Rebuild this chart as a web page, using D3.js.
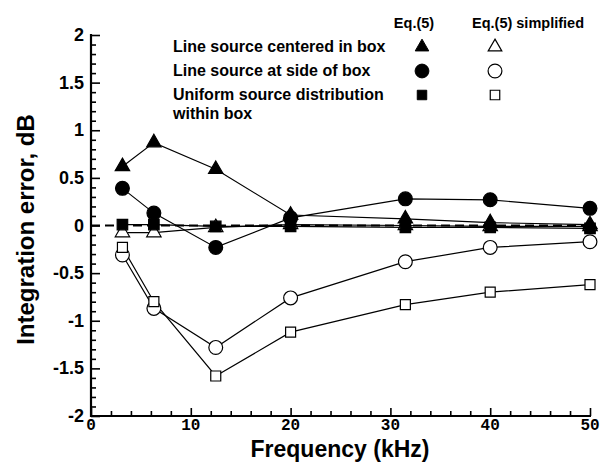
<!DOCTYPE html>
<html><head><meta charset="utf-8">
<script src="https://cdn.jsdelivr.net/npm/d3@7"></script>
<style>body{margin:0;background:#fff}svg{display:block}</style>
</head><body>
<script>
const freqs = [3.15, 6.3, 12.5, 20, 31.5, 40, 50];
const centeredEq5 = [0.62, 0.87, 0.59, 0.11, 0.07, 0.03, 0.01];
const centeredSimp = [-0.075, -0.075, -0.02, 0.01, 0.0, -0.01, -0.01];
const sideEq5 = [0.39, 0.13, -0.23, 0.08, 0.28, 0.27, 0.18];
const sideSimp = [-0.31, -0.87, -1.28, -0.76, -0.38, -0.23, -0.17];
const uniformEq5 = [0.01, 0.01, -0.01, -0.01, -0.02, -0.02, -0.03];
const uniformSimp = [-0.23, -0.80, -1.58, -1.12, -0.83, -0.70, -0.62];
const xTicks = [0, 10, 20, 30, 40, 50];
const yTicks = [-2, -1.5, -1, -0.5, 0, 0.5, 1, 1.5, 2];
const legendRows = ["Line source centered in box", "Line source at side of box", "Uniform source distribution"];
const legendCols = ["Eq.(5)", "Eq.(5) simplified"];

const W = 602, H = 462;
const svg = d3.select("body").append("svg").attr("width", W).attr("height", H);
const x = d3.scaleLinear().domain([0, 50]).range([91, 590]);
const y = d3.scaleLinear().domain([-2, 2]).range([416, 35]);
const lf = "Liberation Sans, Arial, sans-serif";

// axes
const xMinor = d3.range(0, 50.001, 2);
const yMinor = d3.range(-2, 2.001, 0.1);
const gx = svg.append("g").attr("transform", `translate(0,${y(-2)})`)
  .call(d3.axisBottom(x).tickValues(xMinor).tickSize(0).tickFormat(""));
gx.select(".domain").remove();
gx.selectAll(".tick line").attr("y2", d => Math.abs(d / 10 - Math.round(d / 10)) < 1e-6 ? -8 : -5)
  .attr("stroke", "#000").attr("stroke-width", 1.6);
const gy = svg.append("g").attr("transform", `translate(${x(0)},0)`)
  .call(d3.axisLeft(y).tickValues(yMinor).tickSize(0).tickFormat(""));
gy.select(".domain").remove();
gy.selectAll(".tick line").attr("x2", d => Math.abs(d * 2 - Math.round(d * 2)) < 1e-6 ? 9 : 5)
  .attr("stroke", "#000").attr("stroke-width", 1.6);
svg.append("line").attr("x1", x(0)).attr("x2", x(0)).attr("y1", y(2) - 1).attr("y2", y(-2) + 1).attr("stroke", "#000").attr("stroke-width", 2.2);
svg.append("line").attr("x1", x(0) - 1).attr("x2", x(50) + 1).attr("y1", y(-2)).attr("y2", y(-2)).attr("stroke", "#000").attr("stroke-width", 2.2);

// tick labels
svg.append("g").selectAll("text").data(xTicks).join("text")
  .attr("x", d => x(d)).attr("y", 430).attr("text-anchor", "middle")
  .attr("font-family", "Liberation Mono, Courier New, monospace").attr("font-weight", "bold").attr("font-size", 16)
  .text(d => d);
svg.append("g").selectAll("text").data(yTicks).join("text")
  .attr("x", 84).attr("y", d => y(d) + 6).attr("text-anchor", "end")
  .attr("font-family", lf).attr("font-weight", "bold").attr("font-size", 18)
  .text(d => d);

// axis titles
svg.append("text").attr("x", 340).attr("y", 456.5).attr("text-anchor", "middle")
  .attr("font-family", lf).attr("font-weight", "bold").attr("font-size", 23)
  .text("Frequency (kHz)");
svg.append("text").attr("transform", `translate(34,${(y(2) + y(-2)) / 2 + 4}) rotate(-90)`).attr("text-anchor", "middle")
  .attr("font-family", lf).attr("font-weight", "bold").attr("font-size", 24)
  .text("Integration error, dB");

// zero dashed line
svg.append("line").attr("x1", x(0)).attr("x2", x(50)).attr("y1", y(0)).attr("y2", y(0))
  .attr("stroke", "#000").attr("stroke-width", 2).attr("stroke-dasharray", "9,5");

const series = [
  {v: centeredSimp, sym: d3.symbolTriangle, size: 90, fill: "#fff"},
  {v: uniformEq5, sym: d3.symbolSquare, size: 110, fill: "#000"},
  {v: centeredEq5, sym: d3.symbolTriangle, size: 90, fill: "#000"},
  {v: sideEq5, sym: d3.symbolCircle, size: 150, fill: "#000"},
  {v: sideSimp, sym: d3.symbolCircle, size: 150, fill: "#fff"},
  {v: uniformSimp, sym: d3.symbolSquare, size: 100, fill: "#fff"}
];
const line = d3.line().x((d, i) => x(freqs[i])).y(d => y(d));
series.forEach(s => {
  svg.append("path").datum(s.v).attr("d", line).attr("fill", "none").attr("stroke", "#000").attr("stroke-width", 1.2);
});
series.forEach(s => {
  svg.append("g").selectAll("path").data(s.v).join("path")
    .attr("transform", (d, i) => `translate(${x(freqs[i])},${y(d)})`)
    .attr("d", d3.symbol().type(s.sym).size(s.size))
    .attr("fill", s.fill).attr("stroke", "#000").attr("stroke-width", 1.2);
});

// legend
svg.append("text").attr("x", 414).attr("y", 28).attr("text-anchor", "middle").attr("font-family", lf).attr("font-weight", "bold").attr("font-size", 14.5).text(legendCols[0]);
svg.append("text").attr("x", 528).attr("y", 28).attr("text-anchor", "middle").attr("font-family", lf).attr("font-weight", "bold").attr("font-size", 14.5).text(legendCols[1]);
const rowY = [47, 71, 95];
legendRows.forEach((t, i) => {
  svg.append("text").attr("x", 173).attr("y", rowY[i] + 5).attr("font-family", lf).attr("font-weight", "bold").attr("font-size", 16).text(t);
});
svg.append("text").attr("x", 173).attr("y", 118.5).attr("font-family", lf).attr("font-weight", "bold").attr("font-size", 16).text("within box");
const legSyms = [[d3.symbolTriangle, 80], [d3.symbolCircle, 150], [d3.symbolSquare, 90]];
legSyms.forEach((s, i) => {
  svg.append("path").attr("transform", `translate(422,${rowY[i]})`).attr("d", d3.symbol().type(s[0]).size(s[1])).attr("fill", "#000").attr("stroke", "#000");
  svg.append("path").attr("transform", `translate(495,${rowY[i]})`).attr("d", d3.symbol().type(s[0]).size(s[1])).attr("fill", "#fff").attr("stroke", "#000").attr("stroke-width", 1.2);
});
</script>
</body></html>
